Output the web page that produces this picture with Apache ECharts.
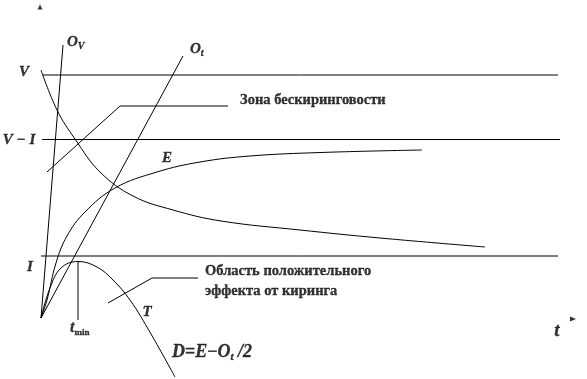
<!DOCTYPE html>
<html><head><meta charset="utf-8">
<script src="https://cdn.jsdelivr.net/npm/echarts@6/dist/echarts.min.js"></script>
<style>html,body{margin:0;padding:0;background:#fff}#c{width:587px;height:379px}</style>
</head><body><div id="c"></div>
<script>
// ---- data (chart units: x = time t, y = level) ----
const levelV       = [[0.1, 24.3], [25.85, 24.3]];
const levelVminusI = [[0.05, 17.85], [25.95, 17.85]];
const levelI       = [[0, 6.2], [25.85, 6.2]];
const rayOV        = [[0, 0], [1.1, 27.3]];
const rayOt        = [[0, 0], [7.1, 26.2]];
const curveF = [[0,24.8],[0.8,20.8],[1.7,17.9],[2.95,14.6],[4.6,12.2],[6.6,10.8],[9.0,9.7],[12.95,8.8],[16.95,8.0],[22.2,7.1]];
const curveE = [[0,0],[0.3,1.8],[0.75,5.5],[1.3,8.2],[2.2,10.6],[3.7,13.0],[5.8,14.6],[7.95,15.6],[10.45,16.2],[14.0,16.55],[19.05,16.8]];
const curveD = [[0,0],[0.45,3.0],[1.0,5.0],[1.85,5.65],[2.8,5.1],[3.6,3.8],[4.45,1.8],[5.5,-1.6],[6.7,-5.9]];
const tMinLine     = [[1.85, 5.65], [1.85, -0.2]];
const pointerZone  = [[0.3, 14.6], [3.95, 21.2], [9.35, 21.2]];
const pointerArea  = [[3.35, 1.5], [5.55, 4.0], [7.85, 4.0]];
const axisArrowY   = [[-0.05, 31.1]];
const axisArrowX   = [[26.6, -0.1]];

// labels: centred ones and left-anchored ones
const centerLabelPos  = [[-0.85, 24.6], [-1.1, 17.8], [-0.55, 5.1], [6.3, 16.0], [5.3, 0.6], [25.8, -1.3]];
const centerLabelText = ['{i|V}', '{i|V − I}', '{i|I}', '{i|E}', '{i|T}', '{b|t}'];
const leftLabelPos  = [[1.3, 27.6], [7.45, 26.9], [1.45, -1.0], [6.55, -3.4], [9.95, 21.8], [8.2, 4.7], [8.2, 2.7]];
const leftLabelText = ['{i|O}{s|V}', '{i|O}{s|t}', '{j|t}{m|min}', '{d|D}{e|=}{d|E}{e|−}{d|O}{u|t}{e| }{d|/2}',
  '{c|Зона бескиринговости}', '{c|Область положительного}', '{c|эффекта от киринга}'];

const SERIF = '"Liberation Serif","Times New Roman",serif';
const base = {fontFamily: SERIF, fontWeight: 'bold', color: '#000', textBorderColor: '#000', textBorderWidth: 0.3};
const rich = {
  i: Object.assign({}, base, {fontStyle: 'italic', fontSize: 15}),
  j: Object.assign({}, base, {fontStyle: 'italic', fontSize: 16}),
  b: Object.assign({}, base, {fontStyle: 'italic', fontSize: 19}),
  s: Object.assign({}, base, {fontStyle: 'italic', fontSize: 10, padding: [9, 0, 0, 0]}),
  m: Object.assign({}, base, {fontSize: 9, padding: [10, 0, 0, 0]}),
  d: Object.assign({}, base, {fontStyle: 'italic', fontSize: 18}),
  e: Object.assign({}, base, {fontSize: 18}),
  u: Object.assign({}, base, {fontStyle: 'italic', fontSize: 11, padding: [10, 0, 0, 0]}),
  c: Object.assign({}, base, {fontSize: 14.5})
};

function lineSeries(data, smooth) {
  return {type: 'line', data: data, showSymbol: false, smooth: smooth || false,
    clip: false, silent: true, lineStyle: {color: '#000', width: 1}};
}

const chart = echarts.init(document.getElementById('c'), null, {renderer: 'canvas'});
chart.setOption({
  animation: false,
  backgroundColor: '#fff',
  grid: {left: 1, right: 6, top: 3, bottom: 0},
  xAxis: {type: 'value', min: -2, max: 27, show: false},
  yAxis: {type: 'value', min: -6.1, max: 31.5, show: false},
  series: [
    lineSeries(levelV), lineSeries(levelVminusI), lineSeries(levelI),
    lineSeries(rayOV), lineSeries(rayOt),
    lineSeries(curveF, 0.4), lineSeries(curveE, 0.4), lineSeries(curveD, 0.4),
    lineSeries(tMinLine), lineSeries(pointerZone), lineSeries(pointerArea),
    {type: 'scatter', data: axisArrowY, symbol: 'triangle', symbolSize: [5, 5], itemStyle: {color: '#000'}, silent: true, clip: false},
    {type: 'scatter', data: axisArrowX, symbol: 'triangle', symbolSize: [5, 6], symbolRotate: -90, itemStyle: {color: '#000'}, silent: true, clip: false},
    {type: 'scatter', symbolSize: 0, silent: true, clip: false,
      data: centerLabelPos.map((p, k) => ({value: p, label: {show: true, position: 'inside', formatter: centerLabelText[k], rich: rich}}))},
    {type: 'scatter', symbolSize: 0, silent: true, clip: false,
      data: leftLabelPos.map((p, k) => ({value: p, label: {show: true, position: 'right', distance: 0, formatter: leftLabelText[k], rich: rich}}))}
  ]
});
</script></body></html>
